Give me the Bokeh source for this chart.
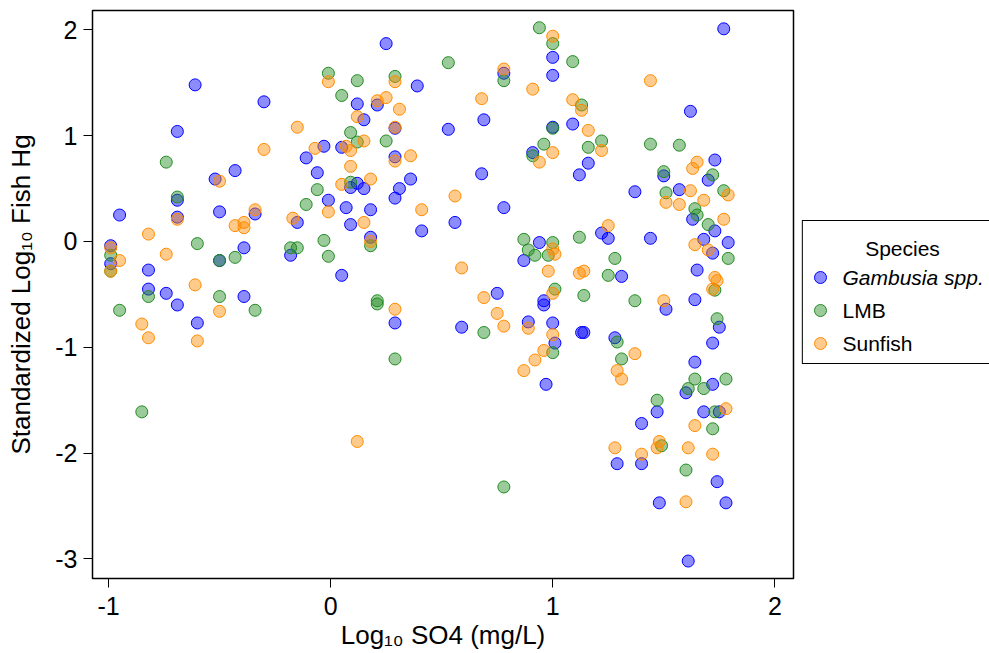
from bokeh.plotting import figure
from bokeh.models import Range1d, FixedTicker
from bokeh.layouts import row
from bokeh.core.properties import value
from bokeh.embed import file_html
from bokeh.resources import INLINE

# ---------------- data ----------------
gambusia_x = [-0.61, -0.30, -0.69, -0.43, -0.52, -0.95, -0.50, -0.34, -0.69, -0.69,
              -0.15, -0.03, -0.11, -0.06, -0.01, -0.39, -0.18, -0.99, -0.99, -0.82,
              -0.82, -0.74, -0.50, -0.39, -0.69, -0.60, 0.25, 1.00, 1.00, 0.78,
              0.39, 0.12, 0.21, 0.15, 0.29, 0.69, 0.53, 0.05, 0.29, 0.09,
              0.12, 0.15, 0.36, 0.31, 0.29, 0.07, 0.18, 0.09, 0.41, 0.56,
              0.68, 0.78, 0.18, 0.05, 0.75, 0.96, 0.91, 1.00, 0.94, 0.87,
              0.29, 0.59, 0.89, 0.96, 1.00, 1.01, 0.97, 1.77, 1.62, 1.09,
              1.16, 1.12, 1.37, 1.50, 1.73, 1.70, 1.57, 1.63, 1.73, 1.68,
              1.79, 1.72, 1.65, 1.22, 1.25, 1.44, 1.31, 1.64, 1.51, 1.75,
              1.72, 1.13, 1.14, 1.28, 1.64, 1.72, 1.60, 1.47, 1.40, 1.68,
              1.75, 1.29, 1.40, 1.74, 1.48, 1.78, 1.61]
gambusia_y = [1.48, 1.32, 1.04, 0.67, 0.59, 0.25, 0.28, 0.26, 0.39, 0.23,
              0.18, 0.90, 0.79, 0.65, 0.39, -0.06, -0.13, -0.04, -0.21, -0.27,
              -0.45, -0.49, -0.18, -0.52, -0.60, -0.77, 1.87, 1.74, 1.57, 1.59,
              1.47, 1.30, 1.29, 1.15, 1.07, 1.15, 1.06, 0.89, 0.80, 0.51,
              0.55, 0.50, 0.59, 0.50, 0.41, 0.32, 0.30, 0.16, 0.10, 0.18,
              0.64, 0.32, 0.04, -0.32, -0.49, -0.56, 0.84, 1.08, -0.01, -0.18,
              -0.77, -0.81, -0.76, -0.60, -0.77, -0.96, -1.35, 2.01, 1.23, 1.11,
              0.74, 0.63, 0.47, 0.62, 0.77, 0.58, 0.49, 0.21, 0.10, 0.02,
              -0.01, -0.11, -0.27, 0.08, 0.03, 0.03, -0.33, -0.55, -0.64, -0.81,
              -0.96, -0.86, -0.86, -0.91, -1.14, -1.35, -1.43, -1.61, -1.72, -1.61,
              -1.61, -2.10, -2.10, -2.27, -2.47, -2.47, -3.02]

lmb_x = [-0.69, -0.74, -0.11, -0.06, -0.01, -0.60, -0.18, -0.15, -0.03, -0.01,
         -0.99, -0.99, -0.82, -0.50, -0.43, -0.50, -0.95, -0.34, -0.85, 0.94,
         1.00, 0.53, 0.78, 0.12, 0.29, 0.05, 0.09, 0.12, 0.25, 0.09,
         0.18, 0.21, 0.91, 0.96, 1.00, 0.87, 0.89, 0.92, 0.98, 1.00,
         1.01, 0.21, 0.29, 0.78, 0.69, 1.00, 1.09, 1.13, 1.22, 1.16,
         1.44, 1.57, 1.50, 1.72, 1.51, 1.77, 1.64, 1.65, 1.70, 1.79,
         1.73, 1.12, 1.28, 1.25, 1.14, 1.37, 1.74, 1.29, 1.31, 1.64,
         1.78, 1.61, 1.68, 1.47, 1.73, 1.72, 1.49, 1.60]
lmb_y = [0.42, 0.75, 0.35, 0.49, 1.59, -0.02, -0.06, -0.06, 0.01, -0.14,
         -0.13, -0.28, -0.52, -0.18, -0.15, -0.52, -0.65, -0.65, -1.61, 2.02,
         1.87, 1.69, 1.52, 1.52, 1.56, 1.38, 1.03, 0.94, 0.95, 0.56,
         -0.04, -0.56, 0.81, 0.92, 1.07, 0.02, -0.08, -0.13, -0.13, -0.01,
         -0.45, -0.59, -1.11, -2.32, -0.86, -1.05, 1.70, 1.29, 0.95, 0.89,
         0.92, 0.91, 0.66, 0.63, 0.46, 0.48, 0.31, 0.25, 0.16, -0.16,
         -0.46, 0.04, -0.16, -0.32, -0.51, -0.56, -0.73, -0.95, -1.11, -1.30,
         -1.30, -1.39, -1.39, -1.50, -1.61, -1.77, -1.93, -2.16]

sunfish_x = [-0.50, -0.34, -0.69, -0.17, -0.07, -0.01, -0.01, -0.15, -0.30, -0.82,
             -0.74, -0.43, -0.39, -0.39, -0.99, -0.95, -0.99, -0.61, -0.50, -0.85,
             -0.82, -0.60, 1.00, 0.91, 0.78, 0.29, 0.21, 0.25, 0.31, 0.12,
             0.29, 0.15, 0.68, 0.07, 0.09, 0.29, 0.36, 0.09, 0.05, 0.18,
             0.15, 0.41, 0.56, 0.18, 0.59, 0.69, 0.94, 1.00, 1.00, 1.01,
             0.98, 1.00, 0.29, 0.12, 0.75, 0.78, 0.89, 1.00, 0.96, 0.92,
             0.87, 1.44, 1.09, 1.13, 1.16, 1.22, 1.65, 1.63, 1.62, 1.51,
             1.57, 1.68, 1.79, 1.77, 1.64, 1.70, 1.73, 1.74, 1.72, 1.25,
             1.12, 1.14, 1.50, 1.37, 1.29, 1.31, 1.78, 1.64, 1.28, 1.40,
             1.48, 1.47, 1.61, 1.72, 1.60]
sunfish_y = [0.57, 0.30, 0.21, 0.22, 0.88, 0.28, 1.51, 1.08, 0.87, 0.07,
             -0.12, 0.15, 0.18, 0.13, -0.06, -0.18, -0.28, -0.41, -0.66, -0.78,
             -0.91, -0.94, 1.94, 1.44, 1.63, 1.51, 1.33, 1.36, 1.25, 1.18,
             1.08, 0.95, 1.35, 0.90, 0.86, 0.76, 0.81, 0.71, 0.54, 0.59,
             0.18, 0.30, 0.43, 0.00, -0.25, -0.53, 0.75, 0.84, -0.07, -0.12,
             -0.28, -0.49, -0.64, -1.89, -0.68, -0.80, -0.82, -0.88, -1.03, -1.12,
             -1.22, 1.52, 1.34, 1.24, 1.05, 0.86, 0.75, 0.69, 0.48, 0.37,
             0.35, 0.39, 0.44, 0.21, -0.03, -0.08, -0.34, -0.37, -0.45, 0.15,
             -0.30, -0.28, -0.56, -1.06, -1.22, -1.30, -1.58, -1.74, -1.95, -2.01,
             -1.89, -1.95, -1.95, -2.01, -2.46]

species_names = ["Gambusia spp.", "LMB", "Sunfish"]
species_colors = ["#0000ff", "#228b22", "#ff8c00"]
species_styles = ["italic", "normal", "normal"]
legend_title = "Species"
x_ticks = [-1, 0, 1, 2]
x_tick_labels = ["-1", "0", "1", "2"]
y_ticks = [-3, -2, -1, 0, 1, 2]
y_tick_labels = ["-3", "-2", "-1", "0", "1", "2"]

FONT = "Liberation Sans"
TOP, FH, BOT = 10, 568, 72

p = figure(frame_width=701, frame_height=FH, output_backend="svg", toolbar_location=None,
           x_range=Range1d(-1.072, 2.084), y_range=Range1d(-3.185, 2.183),
           min_border_left=92, min_border_right=8, min_border_top=TOP,
           min_border_bottom=BOT)
p.grid.visible = False
p.outline_line_color = "black"
p.outline_line_width = 1.5
p.background_fill_color = "white"
p.border_fill_color = "white"

series = [(gambusia_x, gambusia_y), (lmb_x, lmb_y), (sunfish_x, sunfish_y)]
for col, (xs, ys) in zip(species_colors, series):
    p.scatter(xs, ys, marker="circle", size=12, fill_color=col, fill_alpha=0.45,
              line_color=col, line_width=1)

p.xaxis.ticker = FixedTicker(ticks=x_ticks)
p.xaxis.major_label_overrides = {t: l for t, l in zip(x_ticks, x_tick_labels)}
p.yaxis.ticker = FixedTicker(ticks=y_ticks)
p.yaxis.major_label_overrides = {t: l for t, l in zip(y_ticks, y_tick_labels)}
p.xaxis.axis_label = "Log\u2081\u2080 SO4 (mg/L)"
p.yaxis.axis_label = "Standardized Log\u2081\u2080 Fish Hg"
for ax in (p.xaxis, p.yaxis):
    ax.axis_line_color = None
    ax.major_tick_line_color = "black"
    ax.major_tick_line_width = 1
    ax.major_tick_out = 9
    ax.major_tick_in = 0
    ax.minor_tick_line_color = None
    ax.major_label_text_font = FONT
    ax.major_label_text_font_size = "25px"
    ax.major_label_text_color = "black"
    ax.axis_label_text_font = FONT
    ax.axis_label_text_font_size = "26px"
    ax.axis_label_text_font_style = "normal"
    ax.axis_label_text_color = "black"
p.xaxis.major_label_standoff = 9
p.xaxis.axis_label_standoff = 2
p.yaxis.major_label_standoff = 6
p.yaxis.axis_label_standoff = 16

# ---------------- legend panel (frame aligned with the main frame) ----------------
LW = 188
q = figure(width=LW, frame_height=FH, output_backend="svg", toolbar_location=None,
           x_range=Range1d(0, LW), y_range=Range1d(TOP + FH, TOP),
           min_border_left=0, min_border_right=0, min_border_top=TOP,
           min_border_bottom=BOT, x_axis_type=None, y_axis_type=None)
q.grid.visible = False
q.outline_line_color = None
q.background_fill_color = "white"
q.border_fill_color = "white"

q.quad(left=[0.75], right=[LW + 20], top=[220], bottom=[363],
       fill_color="white", line_color="black", line_width=1.2)
q.text(x=[101], y=[248], text=[legend_title], text_font=value(FONT),
       text_font_size="21px", text_align="center", text_baseline="middle",
       text_color="black")
ys_leg = [277, 310, 343]
q.scatter(x=[19] * 3, y=ys_leg, marker="circle", size=12, fill_color=species_colors,
          fill_alpha=0.45, line_color=species_colors, line_width=1)
q.text(x=[41] * 3, y=ys_leg, text=species_names, text_font=value(FONT),
       text_font_size="21px", text_font_style=species_styles,
       text_align="left", text_baseline="middle", text_color="black")

layout = row(p, q, spacing=0)
open("out.html", "w").write(file_html(layout, INLINE))
